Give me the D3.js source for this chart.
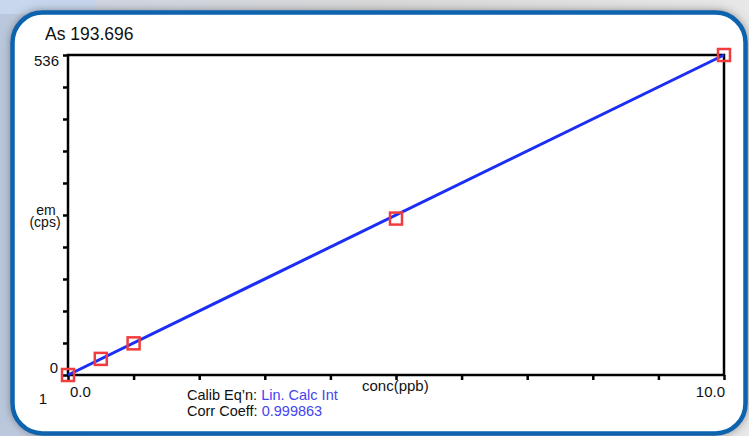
<!DOCTYPE html>
<meta charset="utf-8">
<html>
<script src="https://d3js.org/d3.v7.min.js"></script>
<style>
  body { margin: 0; background: #fff; }
  text { font-family: "Liberation Sans", Arial, sans-serif; fill: #111; }
</style>
<body>
<div id="chart"></div>
<script>

// calibration standards
const conc = [0, 0.5, 1.0, 5.0, 10.0];      // ppb
const cps = [0, 27, 53, 262, 536];          // em (cps)
// fitted line end points
const fitX = [0, 10];
const fitY = [0, 536];
const xTicks = [0, 1, 2, 3, 4, 5, 6, 7, 8, 9, 10];
const yTicks = [0, 53.6, 107.2, 160.8, 214.4, 268, 321.6, 375.2, 428.8, 482.4, 536];
const xLabels = ["0.0", "10.0"];
const yLabels = ["0", "536"];

const W = 749, H = 436;

const svg = d3.select("#chart").append("svg")
    .attr("width", W).attr("height", H);

const defs = svg.append("defs");
const bg = defs.append("linearGradient").attr("id", "bg")
    .attr("x1", 0).attr("x2", 1).attr("y1", 0).attr("y2", 0);
bg.append("stop").attr("offset", "0").attr("stop-color", "#b9c7dd");
bg.append("stop").attr("offset", "0.12").attr("stop-color", "#cfd6e2");
bg.append("stop").attr("offset", "0.5").attr("stop-color", "#d9d9d9");
bg.append("stop").attr("offset", "1").attr("stop-color", "#e8e8e8");

const sh = defs.append("filter").attr("id", "shadow")
    .attr("x", "-5%").attr("y", "-5%").attr("width", "110%").attr("height", "110%");
sh.append("feDropShadow").attr("dx", 0).attr("dy", 0)
    .attr("stdDeviation", 4).attr("flood-color", "#555").attr("flood-opacity", 0.6);

// page background behind the panel
svg.append("rect").attr("width", W).attr("height", H).attr("fill", "url(#bg)");
svg.append("rect").attr("x", 0).attr("y", 0).attr("width", 95).attr("height", 14)
    .attr("fill", "#c8d7ee");

// white panel with blue border
svg.append("rect")
    .attr("x", 12.5).attr("y", 12.5)
    .attr("width", 733).attr("height", 421)
    .attr("rx", 30).attr("ry", 30)
    .attr("fill", "#fff")
    .attr("stroke", "#0b64ad")
    .attr("stroke-width", 4.5)
    .attr("filter", "url(#shadow)");

// scales
const x = d3.scaleLinear().domain([0, 10]).range([68, 724]);
const y = d3.scaleLinear().domain([0, 536]).range([375, 55]);

// ticks
svg.append("g")
    .attr("transform", `translate(${x(0)},0)`)
    .call(d3.axisLeft(y).tickValues(yTicks).tickSize(5).tickFormat(""))
    .call(g => g.select(".domain").remove())
    .call(g => g.selectAll("line").attr("stroke", "#000").attr("stroke-width", 2.5));

svg.append("g")
    .attr("transform", `translate(0,${y(0)})`)
    .call(d3.axisBottom(x).tickValues(xTicks).tickSize(5).tickFormat(""))
    .call(g => g.select(".domain").remove())
    .call(g => g.selectAll("line").attr("stroke", "#000").attr("stroke-width", 2.5));

// plot frame
svg.append("rect")
    .attr("x", x(0)).attr("y", y(536))
    .attr("width", x(10) - x(0)).attr("height", y(0) - y(536))
    .attr("fill", "none")
    .attr("stroke", "#000")
    .attr("stroke-width", 2.5);

// fit line
svg.append("line")
    .attr("x1", x(fitX[0])).attr("y1", y(fitY[0]))
    .attr("x2", x(fitX[1])).attr("y2", y(fitY[1]))
    .attr("stroke", "#1a2ef5")
    .attr("stroke-width", 3);

// standard markers
svg.selectAll("rect.pt")
    .data(conc)
    .join("rect")
    .attr("class", "pt")
    .attr("x", (d, i) => x(d) - 6)
    .attr("y", (d, i) => y(cps[i]) - 6)
    .attr("width", 12).attr("height", 12)
    .attr("fill", "none")
    .attr("stroke", "#f03c3c")
    .attr("stroke-width", 2.5);

// title
svg.append("text").attr("x", 45).attr("y", 40)
    .style("font-size", "17.5px").text("As 193.696");

// y labels
svg.append("text").attr("x", 59).attr("y", y(536) + 11)
    .attr("text-anchor", "end").style("font-size", "15px").text(yLabels[1]);
svg.append("text").attr("x", 58).attr("y", y(0) - 2)
    .attr("text-anchor", "end").style("font-size", "15px").text(yLabels[0]);
svg.append("text").attr("x", 47).attr("y", 404)
    .attr("text-anchor", "end").style("font-size", "15px").text("1");

svg.append("text").attr("x", 46).attr("y", 215)
    .attr("text-anchor", "middle").style("font-size", "14px").text("em");
svg.append("text").attr("x", 45).attr("y", 227)
    .attr("text-anchor", "middle").style("font-size", "14px").text("(cps)");

// x labels
svg.append("text").attr("x", x(0) + 2).attr("y", 397)
    .style("font-size", "15px").text(xLabels[0]);
svg.append("text").attr("x", x(10) + 1).attr("y", 397)
    .attr("text-anchor", "end").style("font-size", "15px").text(xLabels[1]);
svg.append("text").attr("x", 362).attr("y", 391)
    .style("font-size", "15px").text("conc(ppb)");

// calibration info
const info = svg.append("g").style("font-size", "14.5px");
const t1 = info.append("text").attr("x", 187).attr("y", 400);
t1.append("tspan").text("Calib Eq\u2019n: ");
t1.append("tspan").style("fill", "#4444f2").text("Lin. Calc Int");
const t2 = info.append("text").attr("x", 187).attr("y", 416);
t2.append("tspan").text("Corr Coeff: ");
t2.append("tspan").style("fill", "#4444f2").text("0.999863");

</script>
</body>
</html>
